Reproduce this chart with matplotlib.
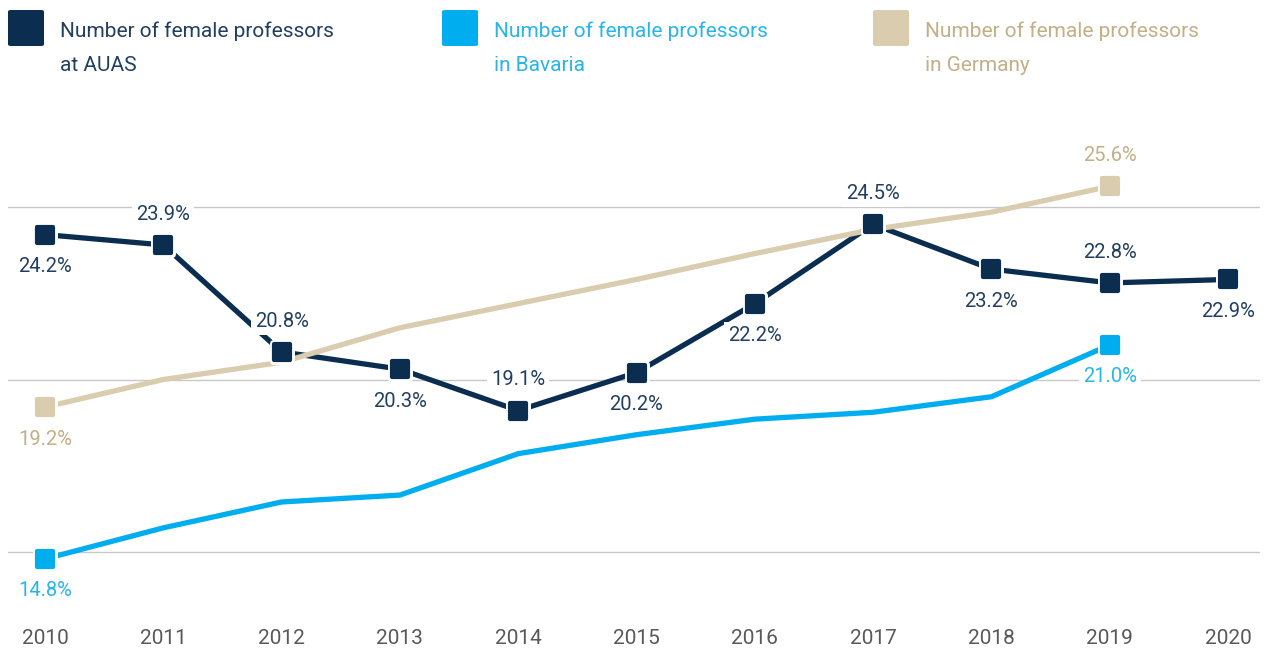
import matplotlib
matplotlib.use("Agg")
import matplotlib.pyplot as plt
from matplotlib.markers import MarkerStyle
from matplotlib.patches import FancyBboxPatch

plt.rcParams['font.family'] = ['Roboto', 'DejaVu Sans']

years = [2010, 2011, 2012, 2013, 2014, 2015, 2016, 2017, 2018, 2019, 2020]
auas = [24.2, 23.9, 20.8, 20.3, 19.1, 20.2, 22.2, 24.5, 23.2, 22.8, 22.9]
bavaria_years = [2010, 2011, 2012, 2013, 2014, 2015, 2016, 2017, 2018, 2019]
bavaria = [14.8, 15.7, 16.45, 16.65, 17.85, 18.4, 18.85, 19.05, 19.5, 21.0]
germany_years = [2010, 2011, 2012, 2013, 2014, 2015, 2016, 2017, 2018, 2019]
germany = [19.2, 20.0, 20.5, 21.5, 22.2, 22.9, 23.65, 24.35, 24.85, 25.6]

legend_labels = [("Number of female professors", "at AUAS"),
                 ("Number of female professors", "in Bavaria"),
                 ("Number of female professors", "in Germany")]

NAVY = "#0b2d4f"
CYAN = "#00aeef"
BEIGE = "#d9ccaf"
NAVY_T = "#233f5f"
CYAN_T = "#2ab4eb"
BEIGE_T = "#c3af88"

W, H = 1265, 652
fig = plt.figure(figsize=(W / 100, H / 100), dpi=100)
ax = fig.add_axes([8 / W, (H - 600) / H, (1260 - 8) / W, 500 / H])
ppy = (1228 - 45) / 10.0
ax.set_xlim(2010 - 37 / ppy, 2020 + 32 / ppy)
ax.set_ylim(15 - 48 / 34.5, 25 + 107 / 34.5)

for s in ax.spines.values():
    s.set_visible(False)
ax.set_yticks([15, 20, 25])
ax.set_yticklabels([])
ax.tick_params(axis='y', length=0)
ax.grid(axis='y', color='#c8c8c8', linewidth=1.0)
ax.set_axisbelow(True)
ax.set_xticks(years)
ax.set_xticklabels([str(y) for y in years], fontsize=15, color='#595959')
ax.tick_params(axis='x', length=0, pad=21)

lw = 3.8
ax.plot(years, auas, color=NAVY, lw=lw, zorder=3)
ax.plot(germany_years, germany, color=BEIGE, lw=lw, zorder=3.2)
ax.plot(bavaria_years, bavaria, color=CYAN, lw=lw, zorder=3.1)

ms_round = MarkerStyle('s', joinstyle='round')


def marker(x, y, color):
    ax.plot([x], [y], marker=ms_round, markersize=12.5, color='white',
            markeredgecolor='white', markeredgewidth=5.0, zorder=5, ls='none')
    ax.plot([x], [y], marker=ms_round, markersize=11.0, color=color,
            markeredgecolor=color, markeredgewidth=3.0, zorder=6, ls='none')


for x, y in zip(years, auas):
    marker(x, y, NAVY)
marker(bavaria_years[0], bavaria[0], CYAN)
marker(bavaria_years[-1], bavaria[-1], CYAN)
marker(germany_years[0], germany[0], BEIGE)
marker(germany_years[-1], germany[-1], BEIGE)

auas_pos = [1, -1, -1, 1, -1, 1, 1, -1, 1, -1, 1]


def label(x, y, txt, color, direction):
    off = 23 if direction > 0 else -22
    ax.annotate(txt, (x, y), xytext=(0, -off), textcoords='offset points',
                ha='center', va='center', fontsize=14.5, color=color,
                zorder=7,
                bbox=dict(boxstyle='square,pad=0.2', fc='white', ec='none'))


for x, y, d in zip(years, auas, auas_pos):
    label(x, y, f"{y:.1f}%", NAVY_T, d)
label(bavaria_years[0], bavaria[0], f"{bavaria[0]:.1f}%", CYAN_T, 1)
label(bavaria_years[-1], bavaria[-1], f"{bavaria[-1]:.1f}%", CYAN_T, 1)
label(germany_years[0], germany[0], f"{germany[0]:.1f}%", BEIGE_T, 1)
label(germany_years[-1], germany[-1], f"{germany[-1]:.1f}%", BEIGE_T, -1)

# legend
leg_x = [8, 442, 873]
leg_colors = [NAVY, CYAN, BEIGE]
leg_tcolors = [NAVY_T, CYAN_T, BEIGE_T]
for lx, c, tc, (l1, l2) in zip(leg_x, leg_colors, leg_tcolors, legend_labels):
    sq = 36
    p = FancyBboxPatch((lx / W, (H - 46) / H), sq / W, sq / H,
                       boxstyle=f"round,pad=0,rounding_size={3 / W}",
                       transform=fig.transFigure, fc=c, ec='none')
    fig.patches.append(p)
    fig.text((lx + 52) / W, (H - 37) / H, l1, ha='left', va='baseline',
             fontsize=15, color=tc)
    fig.text((lx + 52) / W, (H - 71) / H, l2, ha='left', va='baseline',
             fontsize=15, color=tc)

fig.savefig("out.png", dpi=100)
